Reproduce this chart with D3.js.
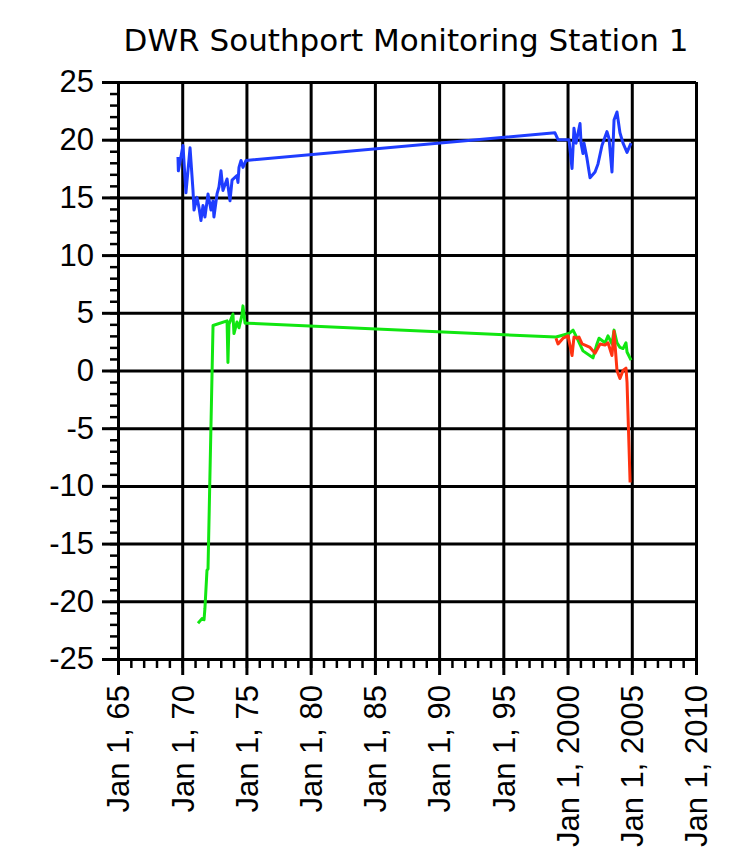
<!DOCTYPE html>
<html>
<head>
<meta charset="utf-8">
<script src="https://cdn.jsdelivr.net/npm/d3@7"></script>
<style>
body { margin: 0; background: #fff; }
svg { display: block; }
.grid line { stroke: #000; stroke-width: 3; }
.grid path { display: none; }
.axis path, .axis line { stroke: #000; }
.axis text { font-family: "Liberation Sans", Arial, sans-serif; font-size: 31px; fill: #000; }
.minor text { display: none; }
</style>
</head>
<body>
<div id="chart"></div>
<script>
// decimal years and values
var blue_year = [1969.67, 1969.70, 1970.06, 1970.29, 1970.61, 1970.84, 1970.92, 1971.15, 1971.31, 1971.46,
    1971.62, 1971.77, 1972.01, 1972.24, 1972.40, 1972.47, 1972.71, 1972.86, 1973.02, 1973.17,
    1973.49, 1973.72, 1973.88, 1974.26, 1974.34, 1974.42, 1974.58, 1974.73, 1974.97,
    1999.02, 1999.26, 2000.11, 2000.35, 2000.50, 2000.66, 2000.97, 2001.05, 2001.20, 2001.28,
    2001.51, 2001.75, 2002.14, 2002.37, 2002.68, 2003.07, 2003.23, 2003.46, 2003.62, 2003.85,
    2004.08, 2004.32, 2004.63, 2004.94];
var blue_val = [18.5, 17.3, 19.5, 15.4, 19.3, 15.6, 13.9, 15.0, 14.1, 13.0,
    14.3, 13.3, 15.3, 13.9, 14.7, 13.3, 15.3, 15.9, 17.3, 15.6,
    16.6, 14.7, 16.5, 16.9, 16.3, 17.6, 18.2, 17.6, 18.2,
    20.6, 20.0, 20.0, 17.5, 21.0, 19.7, 21.4, 19.7, 18.8, 19.7,
    18.4, 16.7, 17.2, 17.9, 19.5, 20.7, 20.1, 17.2, 21.7, 22.4,
    20.6, 19.7, 18.9, 19.7];

var green_year = [1971.23, 1971.54, 1971.70, 1971.77, 1971.93, 1972.01, 1972.40, 1973.49, 1973.56, 1973.64,
    1973.95, 1974.03, 1974.26, 1974.42, 1974.65, 1974.73, 1974.89, 1975.12,
    1999.10, 2000.11, 2000.43, 2000.74, 2001.20, 2001.98, 2002.29, 2002.45, 2002.92, 2003.15,
    2003.46, 2003.62, 2003.85, 2004.08, 2004.32, 2004.55, 2004.63, 2004.94];
var green_val = [-21.9, -21.5, -21.6, -20.6, -17.3, -17.2, 3.9, 4.3, 0.7, 4.0,
    4.9, 3.2, 4.2, 3.7, 4.8, 5.6, 4.1, 4.1,
    2.9, 3.2, 3.5, 2.8, 1.7, 1.1, 2.3, 2.8, 2.4, 3.0,
    2.3, 3.5, 2.4, 2.0, 1.9, 2.4, 1.6, 0.9];

var red_year = [1999.10, 1999.26, 1999.65, 2000.04, 2000.35, 2000.50, 2000.74, 2000.89, 2001.13, 2001.36,
    2001.75, 2002.14, 2002.53, 2002.92, 2003.15, 2003.46, 2003.62, 2003.85, 2004.08, 2004.32,
    2004.55, 2004.63, 2004.87];
var red_val = [2.8, 2.3, 2.8, 3.0, 1.3, 2.9, 2.8, 2.9, 2.3, 2.2,
    2.0, 1.5, 2.3, 2.2, 2.4, 1.3, 3.4, 0.0, -0.7, 0.0,
    0.2, -1.0, -9.7];

var x_ticks = [1965, 1970, 1975, 1980, 1985, 1990, 1995, 2000, 2005, 2010];
var y_ticks = [25, 20, 15, 10, 5, 0, -5, -10, -15, -20, -25];

var width = 739, height = 863;
var margin = { top: 82, right: 43, bottom: 204, left: 118 };
var w = width - margin.left - margin.right,
    h = height - margin.top - margin.bottom;

function to_date(yr) {
    var y = Math.floor(yr);
    var start = new Date(y, 0, 1), end = new Date(y + 1, 0, 1);
    return new Date(start.getTime() + (yr - y) * (end - start));
}

var x = d3.scaleTime()
    .domain([new Date(1965, 0, 1), new Date(2010, 0, 1)])
    .range([0, w]);
var y = d3.scaleLinear().domain([-25, 25]).range([h, 0]);

var svg = d3.select("#chart").append("svg")
    .attr("width", width).attr("height", height);

svg.append("text")
    .attr("x", margin.left + w / 2 - 1)
    .attr("y", 51)
    .attr("text-anchor", "middle")
    .style("font-family", "'DejaVu Sans', Verdana, sans-serif")
    .style("font-size", "31px")
    .text("DWR Southport Monitoring Station 1");

var g = svg.append("g").attr("transform", "translate(" + margin.left + "," + margin.top + ")");

var x_dates = x_ticks.map(function (d) { return new Date(d, 0, 1); });
var minor_x = d3.range(1965, 2011).map(function (d) { return new Date(d, 0, 1); });

//grid
g.append("g").attr("class", "grid")
    .call(d3.axisBottom(x).tickValues(x_dates).tickSize(h).tickFormat(""));
g.append("g").attr("class", "grid")
    .call(d3.axisLeft(y).tickValues(y_ticks).tickSize(-w).tickFormat(""));

//minor ticks
g.append("g").attr("class", "axis minor")
    .attr("transform", "translate(0," + h + ")")
    .call(d3.axisBottom(x).tickValues(minor_x).tickSize(9).tickFormat(""))
    .call(function (s) { s.select(".domain").remove(); s.selectAll("line").attr("stroke-width", 2.5); });
g.append("g").attr("class", "axis minor")
    .call(d3.axisLeft(y).tickValues(d3.range(-25, 26)).tickSize(8).tickFormat(""))
    .call(function (s) { s.select(".domain").remove(); s.selectAll("line").attr("stroke-width", 2.5); });

//major axes
var fmt = function (d) {
    var yr = d.getFullYear();
    return "Jan 1, " + (yr < 2000 ? String(yr).slice(2) : yr);
};
var xa = g.append("g").attr("class", "axis")
    .attr("transform", "translate(0," + h + ")")
    .call(d3.axisBottom(x).tickValues(x_dates).tickSize(16).tickSizeOuter(0).tickFormat(fmt));
xa.select(".domain").attr("stroke-width", 3);
xa.selectAll("line").attr("stroke-width", 3);
xa.selectAll("text")
    .attr("transform", "rotate(-90)")
    .attr("text-anchor", "end")
    .attr("x", -26).attr("y", 0).attr("dy", "0.35em");

var ya = g.append("g").attr("class", "axis")
    .call(d3.axisLeft(y).tickValues(y_ticks).tickSize(16).tickSizeOuter(0).tickPadding(8)
        .tickFormat(function (d) { return String(d); }));
ya.select(".domain").attr("stroke-width", 3);
ya.selectAll("line").attr("stroke-width", 3);

//series
var line = d3.line()
    .x(function (d) { return x(to_date(d[0])); })
    .y(function (d) { return y(d[1]); });

function draw(years, vals, color) {
    g.append("path")
        .datum(d3.zip(years, vals))
        .attr("fill", "none")
        .attr("stroke", color)
        .attr("stroke-width", 3)
        .attr("stroke-linejoin", "round")
        .attr("d", line);
}
draw(blue_year, blue_val, "#1f3dff");
draw(green_year, green_val, "#11e611");
draw(red_year, red_val, "#ff3311");
</script>
</body>
</html>
